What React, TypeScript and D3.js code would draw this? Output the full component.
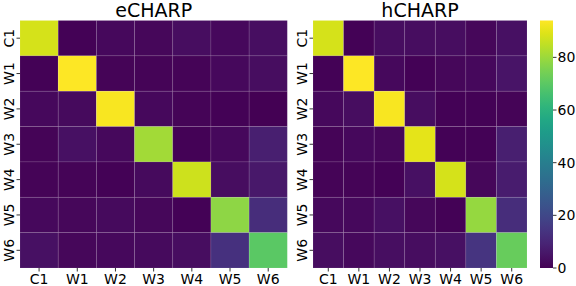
import React from 'react';
import * as d3 from 'd3';

const labels = ['C1', 'W1', 'W2', 'W3', 'W4', 'W5', 'W6'];

const eCharp = [
  [88, 0.5, 2, 1.5, 3, 2, 3.5],
  [0.5, 94, 1, 0.8, 1, 2, 3],
  [2, 2.5, 93, 2, 1, 0.5, 0.3],
  [1, 4, 2, 81, 0.5, 2, 8],
  [0.8, 0.8, 0.5, 2.5, 87, 3, 6],
  [2, 1.5, 2.5, 1.5, 0.5, 78, 12],
  [4, 1.5, 2, 2.5, 3, 13, 70],
];

const hCharp = [
  [88, 0.5, 3, 3, 3, 1.5, 4],
  [0.5, 94, 2, 0.5, 1.5, 2, 5],
  [2, 3, 93, 3, 0.5, 0.5, 0.8],
  [1, 2, 1.5, 90, 0.5, 0.5, 8],
  [1, 1, 0.5, 4, 88, 1.5, 7],
  [2, 2, 4, 1.5, 0.5, 79, 12],
  [3, 2, 3.5, 3, 4, 14, 72],
];

const cbarTicks = [0, 20, 40, 60, 80];
const vmax = 94;

const color = d3.scaleSequential(d3.interpolateViridis).domain([0, vmax]);
const font = 'DejaVu Sans, sans-serif';
const tickSize = 14;

function Heatmap({ data, title, x0, x1, y0, y1 }) {
  const x = d3.scaleBand().domain(labels).range([x0, x1]);
  const y = d3.scaleBand().domain(labels).range([y0, y1]);
  return (
    <g>
      <text x={(x0 + x1) / 2} y={y0 - 3.8} textAnchor="middle" fontSize={19} fontFamily={font}>
        {title}
      </text>
      {data.map((row, i) =>
        row.map((v, j) => (
          <rect
            key={`${i}-${j}`}
            x={x(labels[j])}
            y={y(labels[i])}
            width={x.bandwidth()}
            height={y.bandwidth()}
            fill={color(v)}
            stroke="rgba(255,255,255,0.12)"
            strokeWidth={0.8}
          />
        ))
      )}
      {labels.map((l) => {
        const cx = x(l) + x.bandwidth() / 2;
        return (
          <g key={'x' + l}>
            <line x1={cx} x2={cx} y1={y1} y2={y1 + 3.5} stroke="#000" strokeWidth={0.8} />
            <text x={cx} y={y1 + 15.5} textAnchor="middle" fontSize={tickSize} fontFamily={font}>{l}</text>
          </g>
        );
      })}
      {labels.map((l) => {
        const cy = y(l) + y.bandwidth() / 2;
        return (
          <g key={'y' + l}>
            <line x1={x0 - 3.5} x2={x0} y1={cy} y2={cy} stroke="#000" strokeWidth={0.8} />
            <text
              transform={`translate(${x0 - 6.5},${cy}) rotate(-90)`}
              textAnchor="middle"
              fontSize={tickSize}
              fontFamily={font}
            >
              {l}
            </text>
          </g>
        );
      })}
    </g>
  );
}

function Colorbar({ x0, x1, y0, y1 }) {
  const y = d3.scaleLinear().domain([0, vmax]).range([y1, y0]);
  const stops = d3.range(0, 1.0001, 0.05);
  return (
    <g>
      <defs>
        <linearGradient id="cbar" x1="0" y1="1" x2="0" y2="0">
          {stops.map((s) => (
            <stop key={s} offset={s} stopColor={d3.interpolateViridis(s)} />
          ))}
        </linearGradient>
      </defs>
      <rect x={x0} y={y0} width={x1 - x0} height={y1 - y0} fill="url(#cbar)" />
      {cbarTicks.map((t) => (
        <g key={t}>
          <line x1={x1} x2={x1 + 3.5} y1={y(t)} y2={y(t)} stroke="#000" strokeWidth={0.8} />
          <text x={x1 + 4.5} y={y(t)} dy="0.36em" fontSize={tickSize} fontFamily={font}>{t}</text>
        </g>
      ))}
    </g>
  );
}

export default function App() {
  return (
    <svg width={576} height={286} style={{ position: 'fixed', left: 0, top: 0, background: '#fff' }}>
      <Heatmap data={eCharp} title="eCHARP" x0={20} x1={287.3} y0={20.5} y1={268} />
      <Heatmap data={hCharp} title="hCHARP" x0={313} x1={527} y0={20.5} y1={268} />
      <Colorbar x0={540} x1={553} y0={20.5} y1={268} />
    </svg>
  );
}
